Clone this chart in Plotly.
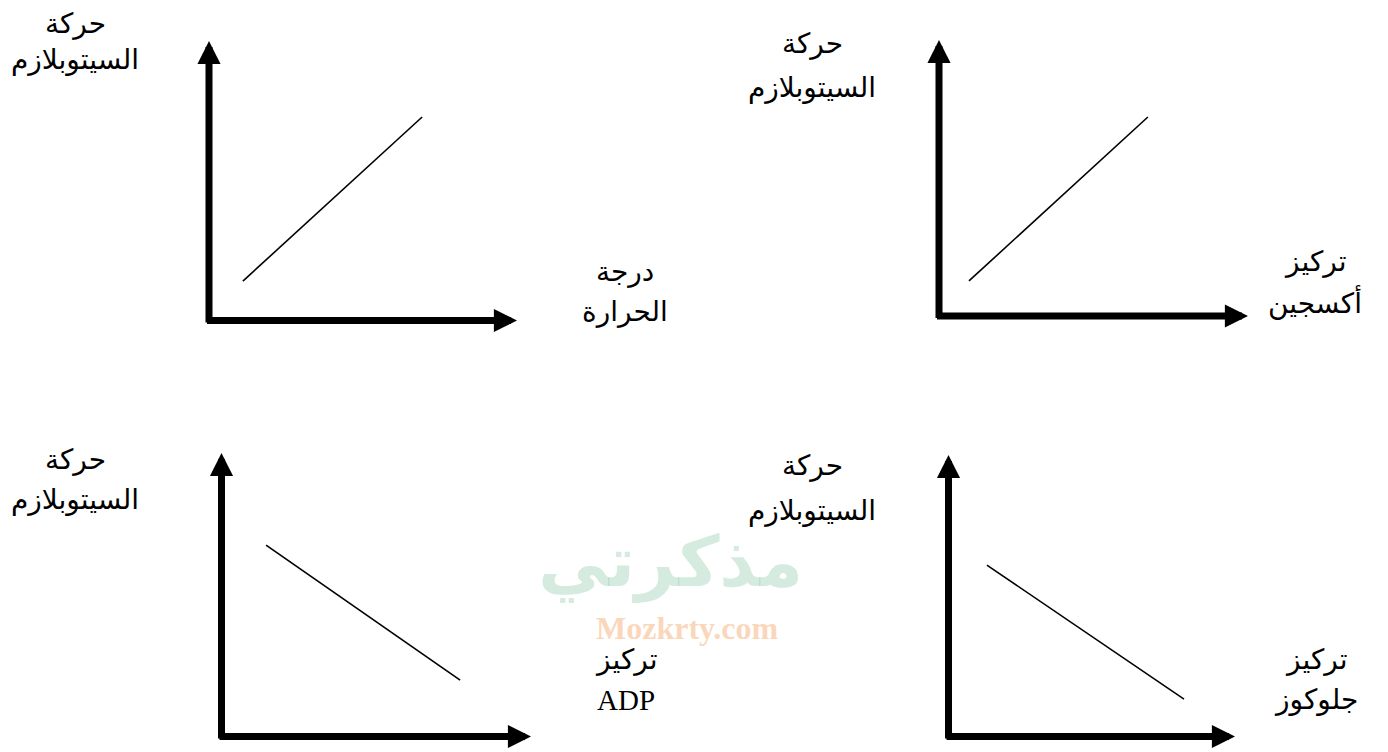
import plotly.graph_objects as go

# the page puts the plot 8 px in from the top-left corner of the window
OFF = 8
W, H = 1388 - OFF, 752 - OFF

# trend line of each small graph, in axis units (0 = origin, 1 = arrow tip)
temp_x = [0.110, 0.692]
temp_y = [0.141, 0.728]
oxygen_x = [0.097, 0.676]
oxygen_y = [0.127, 0.721]
adp_x = [0.144, 0.771]
adp_y = [0.675, 0.199]
glucose_x = [0.134, 0.822]
glucose_y = [0.609, 0.133]

y_title = ["حركة", "السيتوبلازم"]
x_titles = [["درجة", "الحرارة"], ["تركيز", "أكسجين"], ["تركيز", "ADP"], ["تركيز", "جلوكوز"]]

# pixel box of each graph: origin x, arrow tip x, origin y, arrow tip y
boxes = [(209, 517, 320.5, 41), (939, 1248, 316, 40),
         (221.5, 531, 736.5, 453), (948.5, 1235, 736.5, 455)]
# where the texts sit (pixel centres)
ytitle_pos = [(75, 24, 60), (812, 44, 88), (75, 460, 500), (812, 466, 511)]
xtitle_pos = [(625, 272, 312), (1315, 262, 302), (626, 660, 700), (1316, 660, 700)]

series = [(temp_x, temp_y), (oxygen_x, oxygen_y), (adp_x, adp_y), (glucose_x, glucose_y)]

AR_FONT = "Liberation Sans, DejaVu Sans"


def px(x):
    return (x - OFF) / W


def py(y):
    return 1 - (y - OFF) / H


fig = go.Figure()
annotations = []
layout = {}

for i, (box, (xs, ys)) in enumerate(zip(boxes, series)):
    n = "" if i == 0 else str(i + 1)
    ox, tx, oy, ty = box
    layout["xaxis" + n] = dict(domain=[px(ox), px(tx)], range=[0, 1], visible=False,
                               anchor="y" + n)
    layout["yaxis" + n] = dict(domain=[py(oy), py(ty)], range=[0, 1], visible=False,
                               anchor="x" + n)
    fig.add_trace(go.Scatter(x=xs, y=ys, mode="lines", xaxis="x" + n, yaxis="y" + n,
                             line=dict(color="black", width=1.6), showlegend=False,
                             hoverinfo="skip"))
    # thick axes with arrow heads
    dx = 3.5 / (tx - ox)
    dy = 3.5 / (oy - ty)
    for x, y, ax, ay in [(1, 0, -dx, 0), (0, 1, 0, -dy)]:
        annotations.append(dict(x=x, y=y, ax=ax, ay=ay, xref="x" + n, yref="y" + n,
                                axref="x" + n, ayref="y" + n, text="", showarrow=True,
                                arrowhead=2, arrowsize=0.66, arrowwidth=7,
                                arrowcolor="black", standoff=0))

    cx, y1, y2 = ytitle_pos[i]
    for txt, ty_ in zip(y_title, [y1, y2]):
        annotations.append(dict(x=px(cx), y=py(ty_), xref="paper", yref="paper",
                                xanchor="center", yanchor="middle",
                                text=txt, showarrow=False,
                                font=dict(family=AR_FONT, size=28, color="black")))
    cx, y1, y2 = xtitle_pos[i]
    for txt, ty_ in zip(x_titles[i], [y1, y2]):
        latin = txt == "ADP"
        annotations.append(dict(x=px(cx), y=py(ty_), xref="paper", yref="paper",
                                xanchor="center", yanchor="middle",
                                text=txt, showarrow=False,
                                font=dict(family="Liberation Serif" if latin else AR_FONT,
                                          size=29 if latin else 28, color="black")))

# faint site watermark in the middle
annotations.append(dict(x=px(670), y=py(562), xref="paper", yref="paper",
                        xanchor="center", yanchor="middle",
                        text="<b>مذكرتي</b>", showarrow=False,
                        font=dict(family="DejaVu Sans", size=70, color="rgba(150,205,175,0.4)")))
annotations.append(dict(x=px(687), y=py(628), xref="paper", yref="paper",
                        xanchor="center", yanchor="middle",
                        text="<b>Mozkrty.com</b>", showarrow=False,
                        font=dict(family="Liberation Serif", size=32, color="rgba(245,175,120,0.5)")))

fig.update_layout(width=W, height=H, margin=dict(l=0, r=0, t=0, b=0),
                  paper_bgcolor="white", plot_bgcolor="white",
                  annotations=annotations, **layout)

fig.write_html("out.html")
